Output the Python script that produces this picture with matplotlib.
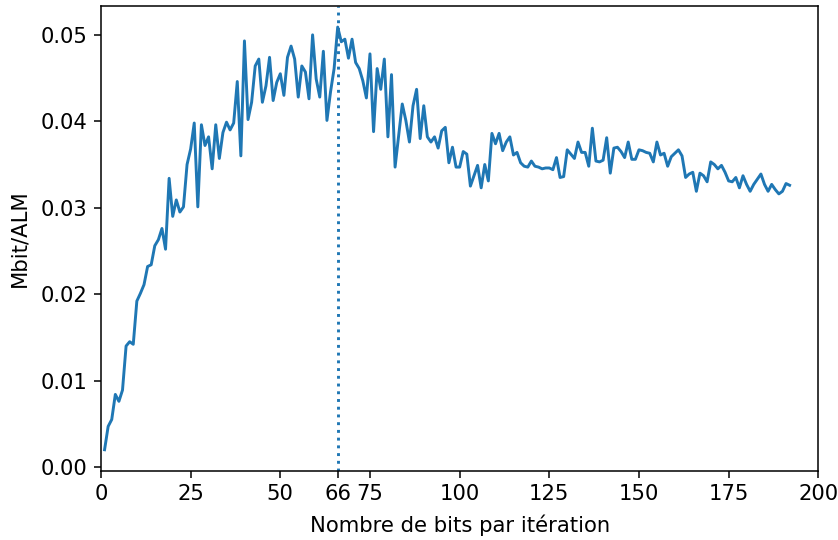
import numpy as np
import matplotlib
matplotlib.use("Agg")
from matplotlib import pyplot as plt

# bits par itération : 1 .. 192
bits = np.arange(1, 193)

mbit_alm = [
    0.0020, 0.0047, 0.0055, 0.0084, 0.0076, 0.0089, 0.0140, 0.0145, 0.0142, 0.0192,
    0.0201, 0.0211, 0.0232, 0.0234, 0.0256, 0.0263, 0.0276, 0.0252, 0.0334, 0.0290,
    0.0309, 0.0295, 0.0301, 0.0350, 0.0368, 0.0398, 0.0301, 0.0396, 0.0372, 0.0382,
    0.0345, 0.0396, 0.0357, 0.0387, 0.0399, 0.0390, 0.0398, 0.0446, 0.0360, 0.0493,
    0.0402, 0.0422, 0.0464, 0.0472, 0.0422, 0.0441, 0.0474, 0.0424, 0.0445, 0.0455,
    0.0430, 0.0474, 0.0487, 0.0472, 0.0428, 0.0464, 0.0457, 0.0426, 0.0500, 0.0449,
    0.0428, 0.0481, 0.0401, 0.0434, 0.0461, 0.0509, 0.0492, 0.0495, 0.0473, 0.0495,
    0.0468, 0.0461, 0.0447, 0.0427, 0.0478, 0.0388, 0.0461, 0.0437, 0.0472, 0.0382,
    0.0454, 0.0347, 0.0383, 0.0420, 0.0401, 0.0376, 0.0418, 0.0437, 0.0380, 0.0418,
    0.0382, 0.0376, 0.0382, 0.0369, 0.0389, 0.0393, 0.0352, 0.0370, 0.0347, 0.0347,
    0.0365, 0.0362, 0.0325, 0.0337, 0.0349, 0.0323, 0.0350, 0.0331, 0.0386, 0.0374,
    0.0386, 0.0366, 0.0376, 0.0382, 0.0361, 0.0364, 0.0352, 0.0348, 0.0347, 0.0354,
    0.0348, 0.0347, 0.0345, 0.0346, 0.0346, 0.0344, 0.0358, 0.0335, 0.0336, 0.0367,
    0.0362, 0.0357, 0.0376, 0.0364, 0.0364, 0.0348, 0.0392, 0.0354, 0.0353, 0.0355,
    0.0381, 0.0340, 0.0369, 0.0370, 0.0365, 0.0358, 0.0376, 0.0356, 0.0356, 0.0367,
    0.0366, 0.0364, 0.0363, 0.0353, 0.0376, 0.0361, 0.0363, 0.0348, 0.0359, 0.0363,
    0.0367, 0.0360, 0.0335, 0.0339, 0.0341, 0.0319, 0.0340, 0.0337, 0.0330, 0.0353,
    0.0350, 0.0345, 0.0349, 0.0341, 0.0331, 0.0330, 0.0335, 0.0323, 0.0337, 0.0327,
    0.0319, 0.0327, 0.0333, 0.0339, 0.0327, 0.0319, 0.0327, 0.0321, 0.0316, 0.0319,
    0.0328, 0.0326,
]

best_bits = 66
xticks = [0, 25, 50, 66, 75, 100, 125, 150, 175, 200]

plt.rcParams['font.size'] = 15.2
plt.rcParams['axes.linewidth'] = 1.1
plt.rcParams['xtick.major.width'] = 1.1
plt.rcParams['ytick.major.width'] = 1.1
plt.rcParams['xtick.major.size'] = 4.9
plt.rcParams['ytick.major.size'] = 4.9
plt.rcParams['xtick.major.pad'] = 4.9
plt.rcParams['ytick.major.pad'] = 4.9

fig = plt.figure(figsize=(8.38, 5.40), dpi=100)
ax = fig.add_axes([0.1205, 0.128, 0.856, 0.861])

ax.plot(bits, mbit_alm, color='C0', linewidth=2.1)
ax.axvline(best_bits, color='C0', linestyle=':', linewidth=2.1)

ax.set_xlim(0, 200)
ax.set_xticks(xticks)
ax.set_xlabel('Nombre de bits par itération', labelpad=7.5)
ax.set_ylabel('Mbit/ALM', labelpad=8)

fig.savefig('out.png', dpi=100)
